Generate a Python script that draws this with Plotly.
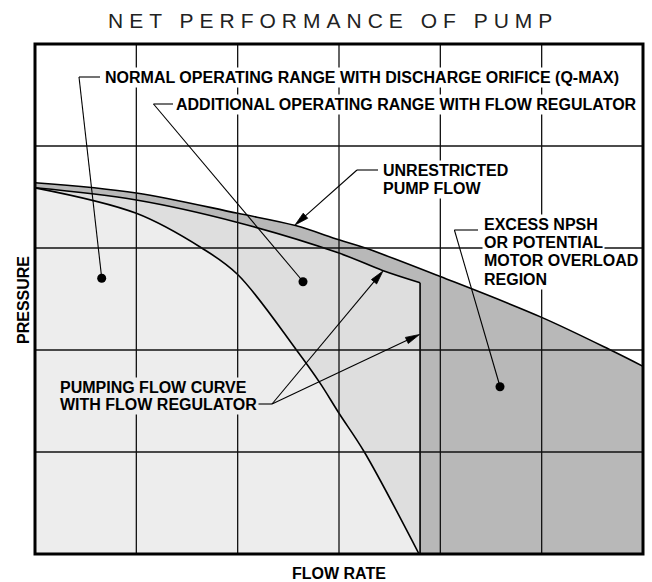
import math
import plotly.graph_objects as go

# ---- chart data (flow-rate units 0..6, pressure units 0..5) ----
flow_unrestricted = [0, 1, 2, 2.57, 3, 3.26, 4, 5, 5.7, 6]
pressure_unrestricted = [3.64, 3.54, 3.34, 3.22, 3.08, 3.0, 2.72, 2.32, 1.99, 1.84]

flow_regulator = [0, 1, 2, 3, 3.43, 3.8]
pressure_regulator = [3.59, 3.47, 3.25, 2.95, 2.78, 2.66]

flow_pumping = [0, 1, 1.645, 2.0, 2.58, 2.81, 3.0, 3.25, 3.79]
pressure_pumping = [3.59, 3.34, 3.0, 2.74, 2.0, 1.68, 1.38, 1.0, 0.0]

grid_flow = [1, 2, 3, 4, 5]
grid_pressure = [1, 2, 3, 4]
x_range = [0, 6]
y_range = [0, 5]

title_text = "NET PERFORMANCE OF PUMP"
x_title = "FLOW RATE"
y_title = "PRESSURE"

# ---- layout helpers (pixel -> axis units) ----
L, R, T, B = 35, 643, 44, 554
W, H = 652, 582


def dx(px):
    return (px - L) / (R - L) * (x_range[1] - x_range[0])


def dy(py):
    return (B - py) / (B - T) * (y_range[1] - y_range[0])


def paper_x(px):
    return (px - L) / (R - L)


def paper_y(py):
    return (B - py) / (B - T)


C_LIGHT = "#ededed"
C_MID = "#dedede"
C_DARK = "#b8b8b8"
FONT = "Liberation Sans, Arial, sans-serif"

fig = go.Figure()

# fills
fig.add_trace(go.Scatter(x=flow_unrestricted, y=pressure_unrestricted, mode="lines",
                         line=dict(shape="spline", width=0, color=C_DARK),
                         fill="tozeroy", fillcolor=C_DARK, hoverinfo="skip"))
fig.add_trace(go.Scatter(x=flow_regulator, y=pressure_regulator, mode="lines",
                         line=dict(shape="spline", width=0, color=C_MID),
                         fill="tozeroy", fillcolor=C_MID, hoverinfo="skip"))
fig.add_trace(go.Scatter(x=flow_pumping, y=pressure_pumping, mode="lines",
                         line=dict(shape="spline", width=0, color=C_LIGHT),
                         fill="tozeroy", fillcolor=C_LIGHT, hoverinfo="skip"))

# curve outlines
for xs, ys in [(flow_unrestricted, pressure_unrestricted),
               (flow_regulator, pressure_regulator),
               (flow_pumping, pressure_pumping)]:
    fig.add_trace(go.Scatter(x=xs, y=ys, mode="lines",
                             line=dict(shape="spline", width=1.6, color="black"),
                             hoverinfo="skip"))
fig.add_trace(go.Scatter(x=[flow_regulator[-1], flow_regulator[-1]],
                         y=[pressure_regulator[-1], y_range[0]], mode="lines",
                         line=dict(width=1.6, color="black"), hoverinfo="skip"))

shapes = []
for gx in grid_flow:
    shapes.append(dict(type="line", xref="x", yref="y", x0=gx, x1=gx, y0=y_range[0], y1=y_range[1],
                       line=dict(color="#111", width=1.3), layer="above"))
for gy in grid_pressure:
    shapes.append(dict(type="line", xref="x", yref="y", y0=gy, y1=gy, x0=x_range[0], x1=x_range[1],
                       line=dict(color="#111", width=1.3), layer="above"))

# leader lines (label connectors) in pixel positions
leaders = [
    ((79, 77), (100, 77)), ((79, 77), (101.7, 278)),
    ((153.5, 104), (173, 104)), ((153.5, 104), (303, 281.5)),
    ((357, 170), (378, 170)),
    ((454.4, 230), (478, 230)), ((454.4, 230), (500, 386.5)),
    ((255, 404), (272, 404)),
]
for (x0, y0), (x1, y1) in leaders:
    shapes.append(dict(type="line", xref="x", yref="y", x0=dx(x0), y0=dy(y0), x1=dx(x1), y1=dy(y1),
                       line=dict(color="black", width=1.1), layer="above"))

# arrows with long narrow heads
arrows = [((357, 170), (295, 225)), ((272, 404), (383, 271)), ((272, 404), (419.5, 334.5))]
for (tx, ty), (hx, hy) in arrows:
    vx, vy = hx - tx, hy - ty
    n = math.hypot(vx, vy)
    ux, uy = vx / n, vy / n
    ln, hw = 14.0, 3.4
    bx, by = hx - ln * ux, hy - ln * uy
    shapes.append(dict(type="line", xref="x", yref="y", x0=dx(tx), y0=dy(ty), x1=dx(bx + 2 * ux),
                       y1=dy(by + 2 * uy), line=dict(color="black", width=1.1), layer="above"))
    p1 = (bx - hw * uy, by + hw * ux)
    p2 = (bx + hw * uy, by - hw * ux)
    path = "M {:.5f},{:.5f} L {:.5f},{:.5f} L {:.5f},{:.5f} Z".format(
        dx(hx), dy(hy), dx(p1[0]), dy(p1[1]), dx(p2[0]), dy(p2[1]))
    shapes.append(dict(type="path", xref="x", yref="y", path=path, fillcolor="black",
                       line=dict(color="black", width=0.8), layer="above"))

# outer frame
shapes.append(dict(type="rect", xref="paper", yref="paper", x0=0, x1=1, y0=0, y1=1,
                   line=dict(color="black", width=3), layer="above"))

# label dots
dot_px = [(101.7, 278.3), (303, 281.7), (500, 386.7)]
fig.add_trace(go.Scatter(x=[dx(p[0]) for p in dot_px], y=[dy(p[1]) for p in dot_px], mode="markers",
                         marker=dict(size=9, color="black"), hoverinfo="skip"))

annotations = []


def label(text, px, py, bg, size=16):
    annotations.append(dict(text=text, x=paper_x(px), y=paper_y(py), xref="paper", yref="paper",
                            xanchor="left", yanchor="middle", showarrow=False,
                            font=dict(family=FONT, size=size, color="black", weight="bold"),
                            bgcolor=bg, borderpad=1))


label("NORMAL OPERATING RANGE WITH DISCHARGE ORIFICE (Q-MAX)", 103, 77, "white")
label("ADDITIONAL OPERATING RANGE WITH FLOW REGULATOR", 174, 104, "white")
label("UNRESTRICTED", 381, 170, "white")
label("PUMP FLOW", 381, 188.3, "white")
label("EXCESS NPSH", 482, 224.3, "white")
label("OR POTENTIAL", 482, 242.3, "white")
label("MOTOR OVERLOAD", 482, 260.7, "white")
label("REGION", 482, 279, "white")
label("PUMPING FLOW CURVE", 58, 387.3, C_LIGHT)
label("WITH FLOW REGULATOR", 58, 405, C_LIGHT)

# titles
annotations.append(dict(text='<span style="letter-spacing:6px">' + title_text + '</span>',
                        x=paper_x(333), y=paper_y(21), xref="paper", yref="paper",
                        xanchor="center", yanchor="middle", showarrow=False,
                        font=dict(family=FONT, size=21, color="#222")))
annotations.append(dict(text=x_title, x=paper_x(339), y=paper_y(573), xref="paper", yref="paper",
                        xanchor="center", yanchor="middle", showarrow=False,
                        font=dict(family=FONT, size=16, color="black", weight="bold")))
annotations.append(dict(text=y_title, x=paper_x(23), y=paper_y(300), xref="paper", yref="paper",
                        xanchor="center", yanchor="middle", showarrow=False, textangle=-90,
                        font=dict(family=FONT, size=16, color="black", weight="bold")))

fig.update_layout(
    width=W, height=H,
    margin=dict(l=L, r=W - R, t=T, b=H - B),
    paper_bgcolor="white", plot_bgcolor="white",
    showlegend=False,
    xaxis=dict(range=x_range, showgrid=False, zeroline=False, showticklabels=False, ticks="",
               showline=False, fixedrange=True),
    yaxis=dict(range=y_range, showgrid=False, zeroline=False, showticklabels=False, ticks="",
               showline=False, fixedrange=True),
    shapes=shapes, annotations=annotations,
)

fig.write_html("out.html", config=dict(displayModeBar=False),
               post_script="document.body.style.margin='0';document.body.style.overflow='hidden';")
